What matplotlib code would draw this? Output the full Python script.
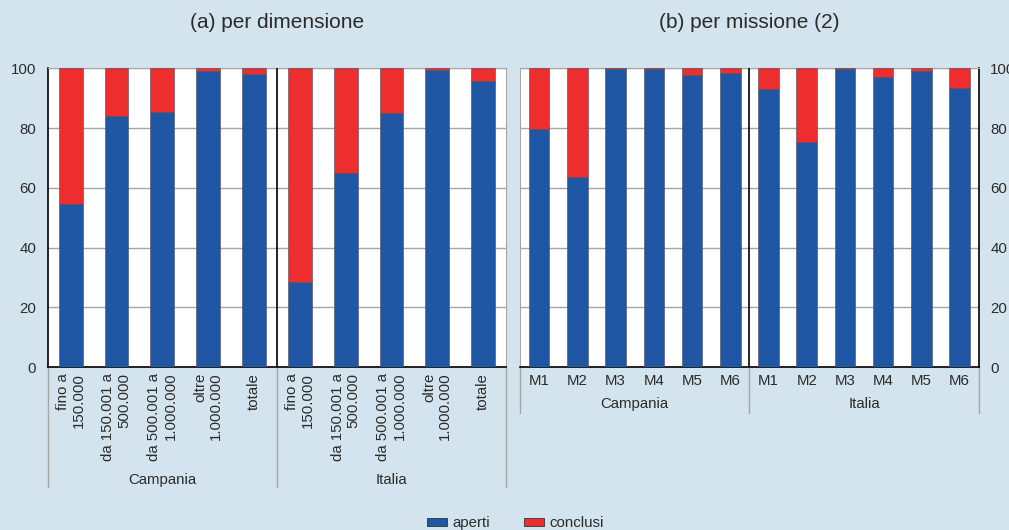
import numpy as np
import matplotlib.pyplot as plt
from matplotlib.patches import Patch
from matplotlib.transforms import blended_transform_factory

plt.rcParams['font.family'] = ['Liberation Sans', 'DejaVu Sans']
plt.rcParams['text.color'] = '#2b2b2b'

# Dati: quota di cantieri aperti (%), conclusi = 100 - aperti
gruppi = ["Campania", "Italia"]
dim_labels = ["fino a\n150.000", "da 150.001 a\n500.000", "da 500.001 a\n1.000.000",
              "oltre\n1.000.000", "totale"]
dim_aperti_campania = [54.5, 83.9, 85.4, 99.0, 98.1]
dim_aperti_italia = [28.5, 65.0, 85.1, 99.3, 95.8]

mis_labels = ["M1", "M2", "M3", "M4", "M5", "M6"]
mis_aperti_campania = [79.6, 63.5, 99.9, 99.7, 97.9, 98.3]
mis_aperti_italia = [93.1, 75.4, 99.7, 97.1, 99.1, 93.3]

sfondo = '#d3e4ee'
blu = '#1f57a5'
rosso = '#ee2e2e'
grigio = '#a6a6a6'
fs = 10.8

fig = plt.figure(figsize=(10.09, 5.30), dpi=100, facecolor=sfondo)
ax1 = fig.add_axes([0.0473, 0.307, 0.4542, 0.5642])
ax2 = fig.add_axes([0.5154, 0.307, 0.4546, 0.5642])


def pannello(ax, labels, ap_c, ap_i, width, sx_nero, rot, gruppo_y, sep_y, tick_pad):
    aperti = np.array(ap_c + ap_i)
    conclusi = 100 - aperti
    n = len(aperti)
    x = np.arange(n)
    ax.set_facecolor('white')
    ax.bar(x, aperti, width, color=blu, edgecolor='#4a4a5a', linewidth=0.4, zorder=3)
    ax.bar(x, conclusi, width, bottom=aperti, color=rosso, edgecolor='#4a4a5a',
           linewidth=0.4, zorder=3)
    ax.set_xlim(-0.5, n - 0.5)
    ax.set_ylim(0, 100)
    ax.set_yticks([0, 20, 40, 60, 80, 100])
    ax.yaxis.grid(True, color=grigio, linewidth=1)
    ax.set_axisbelow(True)
    meta = n / 2 - 0.5
    ax.axvline(meta, color='black', linewidth=1.2, zorder=4)
    for s in ['top', 'left', 'right']:
        ax.spines[s].set_color(grigio)
    ax.spines['bottom'].set_color('black')
    ax.spines['bottom'].set_linewidth(1.2)
    ax.spines[sx_nero].set_color('black')
    ax.spines[sx_nero].set_linewidth(1.2)
    ax.set_xticks(x)
    if rot:
        ax.set_xticklabels(labels * 2, rotation=90, va='top', ha='center',
                           multialignment='right', fontsize=fs)
    else:
        ax.set_xticklabels(labels * 2, fontsize=fs)
    ax.tick_params(axis='x', length=0, pad=tick_pad, colors='#2b2b2b')
    ax.tick_params(axis='y', length=0, pad=8.3, labelsize=fs, colors='#2b2b2b')
    tr = blended_transform_factory(ax.transData, ax.transAxes)
    for xs in [-0.5, meta, n - 0.5]:
        ax.plot([xs, xs], [0, sep_y], color=grigio, linewidth=1, transform=tr,
                clip_on=False)
    half = n // 2
    ax.text((half - 1) / 2, gruppo_y, gruppi[0], transform=tr, ha='center',
            va='center', fontsize=fs)
    ax.text(half + (half - 1) / 2, gruppo_y, gruppi[1], transform=tr, ha='center',
            va='center', fontsize=fs)


pannello(ax1, dim_labels, dim_aperti_campania, dim_aperti_italia, 0.52, 'left',
         True, -0.377, -0.40, 4)
pannello(ax2, mis_labels, mis_aperti_campania, mis_aperti_italia, 0.54, 'right',
         False, -0.124, -0.153, 5)
ax2.yaxis.tick_right()

fig.text(0.2744, 0.958, "(a) per dimensione", ha='center', va='center', fontsize=15)
fig.text(0.7427, 0.958, "(b) per missione (2)", ha='center', va='center', fontsize=15)

handles = [Patch(facecolor=blu, edgecolor='#333333', linewidth=0.6, label='aperti'),
           Patch(facecolor=rosso, edgecolor='#333333', linewidth=0.6, label='conclusi')]
fig.legend(handles=handles, loc='center', bbox_to_anchor=(0.511, 0.013), ncol=2,
           frameon=False, fontsize=fs, handlelength=1.33, handleheight=0.47,
           handletextpad=0.35, columnspacing=2.3)

fig.savefig('out.png', dpi=100, facecolor=sfondo)
